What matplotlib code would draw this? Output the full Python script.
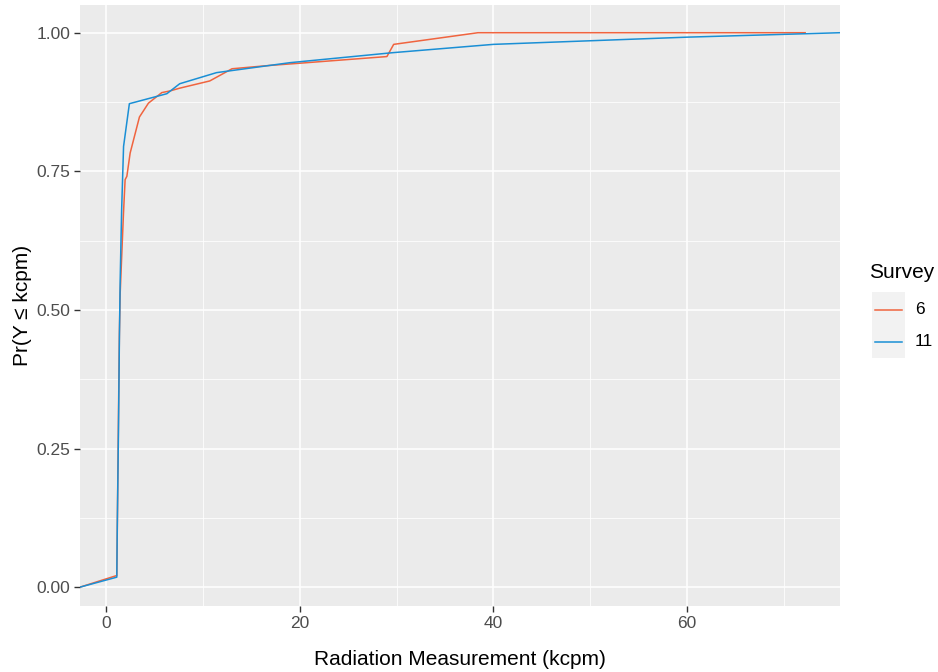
import matplotlib
matplotlib.use("Agg")
import matplotlib.pyplot as plt
from matplotlib.lines import Line2D
from matplotlib.patches import Rectangle

plt.rcParams['font.family'] = ['Liberation Sans', 'DejaVu Sans']

# Empirical CDF of radiation measurements for two surveys
survey6_x = [-2.7, 1.1, 1.12, 1.25, 1.37, 1.45, 1.79, 1.96, 2.14, 2.48, 3.44, 4.37,
             5.75, 6.6, 7.6, 10.7, 13.0, 16.9, 20.0, 29.0, 29.7, 38.4, 72.2]
survey6_y = [0.0, 0.021, 0.049, 0.27, 0.458, 0.53, 0.674, 0.735, 0.741, 0.783, 0.848, 0.873,
             0.892, 0.895, 0.900, 0.913, 0.935, 0.941, 0.945, 0.957, 0.979, 1.0, 1.0]

survey11_x = [-2.7, 1.1, 1.15, 1.27, 1.37, 1.45, 1.6, 1.8, 2.4, 6.27, 7.6, 11.4,
              19.0, 29.6, 40.0, 60.0, 75.8]
survey11_y = [0.0, 0.018, 0.109, 0.277, 0.45, 0.554, 0.68, 0.795, 0.872, 0.890, 0.908, 0.928,
              0.946, 0.964, 0.979, 0.992, 1.0]

survey_labels = ["6", "11"]
survey_colors = ["#F0643F", "#1A8FD5"]

x_ticks = [0, 20, 40, 60]
y_ticks = [0.0, 0.25, 0.5, 0.75, 1.0]
y_tick_labels = ["0.00", "0.25", "0.50", "0.75", "1.00"]

W, H = 938, 672
fig = plt.figure(figsize=(W / 100, H / 100), dpi=100)
ax = fig.add_axes([80 / W, 66 / H, 760 / W, 601 / H])
ax.set_facecolor("#EBEBEB")

ax.plot(survey6_x, survey6_y, color=survey_colors[0], lw=1.1, zorder=3)
ax.plot(survey11_x, survey11_y, color=survey_colors[1], lw=1.1, zorder=3)

ax.set_xlim(-2.7, 75.8)
ax.set_ylim(-0.034, 1.05)

ax.set_xticks(x_ticks)
ax.set_xticks([10, 30, 50, 70], minor=True)
ax.set_yticks(y_ticks)
ax.set_yticklabels(y_tick_labels)
ax.set_yticks([0.125, 0.375, 0.625, 0.875], minor=True)

ax.grid(which="major", color="white", lw=1.1, zorder=0)
ax.grid(which="minor", color="white", lw=0.55, zorder=0)
ax.set_axisbelow(True)
for s in ax.spines.values():
    s.set_visible(False)
ax.tick_params(which="major", length=4, width=1.0, color="#333333",
               labelcolor="#4D4D4D", labelsize=12.5, pad=3)
ax.tick_params(which="minor", length=0)

ax.set_xlabel("Radiation Measurement (kcpm)", fontsize=15, color="black", labelpad=14)
ax.set_ylabel("Pr(Y \u2264 kcpm)", fontsize=15, color="black", labelpad=3)

# Legend drawn in figure pixel coordinates (origin at top-left)
def fx(px):
    return px / W

def fy(py):
    return 1 - py / H

fig.text(fx(869), fy(272), "Survey", fontsize=15, ha="left", va="center")
fig.patches.append(Rectangle((fx(872), fy(358)), 33 / W, 66 / H,
                             transform=fig.transFigure, facecolor="#F2F2F2",
                             edgecolor="none", zorder=1))
for i, (lab, col) in enumerate(zip(survey_labels, survey_colors)):
    ypx = 310 + i * 32
    fig.add_artist(Line2D([fx(875), fx(902)], [fy(ypx), fy(ypx)],
                          transform=fig.transFigure, color=col, lw=1.1, zorder=2))
    fig.text(fx(915), fy(ypx), lab, fontsize=12.5, ha="left", va="center")

fig.savefig("out.png", dpi=100)
